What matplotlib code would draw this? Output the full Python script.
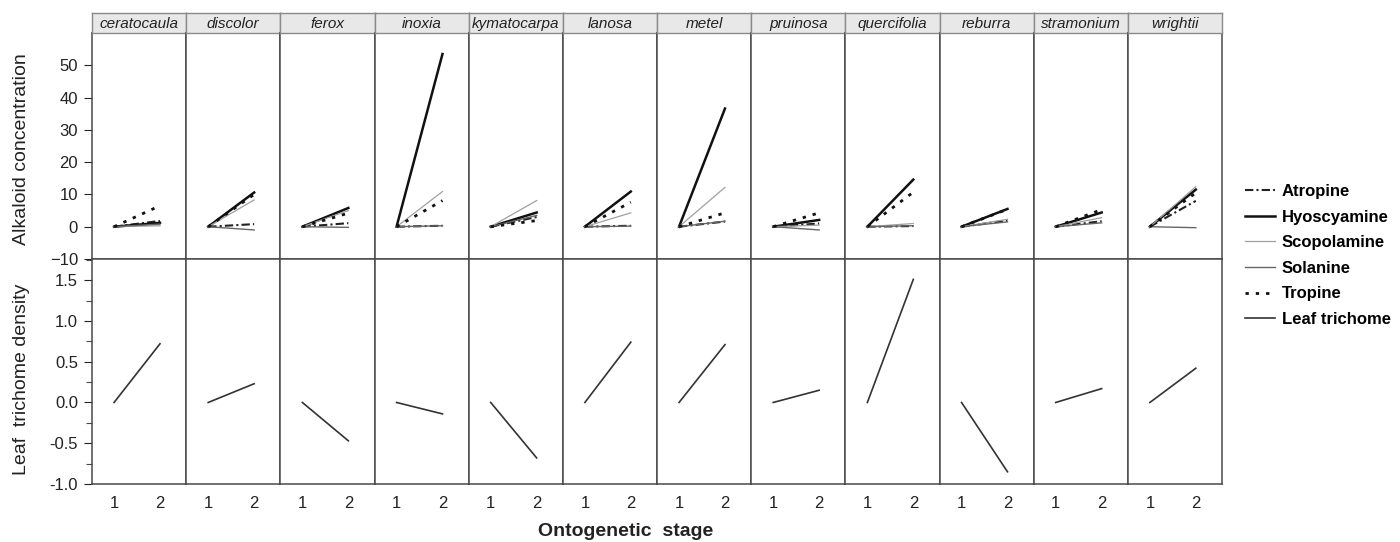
import numpy as np
import matplotlib
matplotlib.use('Agg')
import matplotlib.pyplot as plt
from matplotlib.lines import Line2D
from matplotlib.ticker import MultipleLocator, FormatStrFormatter

plt.rcParams['font.family'] = ['Liberation Sans', 'DejaVu Sans']

species = ['ceratocaula', 'discolor', 'ferox', 'inoxia', 'kymatocarpa', 'lanosa',
           'metel', 'pruinosa', 'quercifolia', 'reburra', 'stramonium', 'wrightii']
stages = [1, 2]

# alkaloid concentration at stage 2 (stage 1 is 0 for all)
atropine    = [1.8, 0.8, 1.1, 0.3, 3.0, 0.3, 1.6, 1.0, 0.2, 1.9, 1.7, 8.0]
hyoscyamine = [1.2, 10.6, 5.8, 53.5, 4.4, 10.9, 36.6, 2.1, 14.6, 5.5, 4.4, 11.5]
scopolamine = [0.3, 8.3, 5.0, 10.9, 8.1, 4.3, 12.2, 0.5, 1.0, 2.3, 2.8, 12.4]
solanine    = [0.8, -1.0, -0.2, 0.3, 3.5, 0.2, 1.7, -1.0, 0.3, 1.5, 1.2, -0.3]
tropine     = [6.5, 10.0, 4.2, 8.1, 1.9, 7.6, 4.3, 4.3, 10.7, 5.4, 5.3, 10.5]
# leaf trichome density at stage 2 (stage 1 is 0)
trichome    = [0.72, 0.23, -0.47, -0.14, -0.68, 0.74, 0.71, 0.15, 1.51, -0.85, 0.17, 0.42]

series = [
    ('Atropine', atropine, dict(color='#222222', lw=1.5, ls=(0, (4, 1.5, 1, 1.5)))),
    ('Hyoscyamine', hyoscyamine, dict(color='#111111', lw=1.8, ls='-')),
    ('Scopolamine', scopolamine, dict(color='#a0a0a0', lw=0.9, ls='-')),
    ('Solanine', solanine, dict(color='#666666', lw=1.0, ls='-')),
    ('Tropine', tropine, dict(color='#111111', lw=2.0, ls=(0, (1.2, 2.5)))),
]
trichome_style = dict(color='#333333', lw=1.2, ls='-')

W, H = 1400, 542
fig = plt.figure(figsize=(W / 100, H / 100), dpi=100)

x0, x1 = 92, 1222
y_strip, y_top, y_mid, y_bot = 13, 33, 259, 484
pw = (x1 - x0) / len(species)
frame_col = '#4a4a4a'
txt_col = '#222222'

for i, sp in enumerate(species):
    left = (x0 + i * pw) / W
    w = pw / W
    ax_t = fig.add_axes([left, 1 - y_mid / H, w, (y_mid - y_top) / H])
    ax_b = fig.add_axes([left, 1 - y_bot / H, w, (y_bot - y_mid) / H])
    ax_s = fig.add_axes([left, 1 - y_top / H, w, (y_top - y_strip) / H])

    for name, vals, st in series:
        ax_t.plot(stages, [0, vals[i]], **st)
    ax_b.plot(stages, [0, trichome[i]], **trichome_style)

    ax_t.set_ylim(-10, 60)
    ax_b.set_ylim(-1.0, 1.76)
    for ax in (ax_t, ax_b):
        ax.set_xlim(0.52, 2.57)
        for s in ax.spines.values():
            s.set_color(frame_col)
            s.set_linewidth(1.1)
        ax.tick_params(axis='x', length=0, pad=9, labelsize=12, colors=txt_col)
        ax.tick_params(axis='y', direction='out', length=6, width=0.8, pad=4,
                       labelsize=12, colors=txt_col)
        ax.set_xticks(stages)
    ax_t.set_xticklabels([])
    ax_t.set_yticks([-10, 0, 10, 20, 30, 40, 50])
    ax_b.set_yticks([-1.0, -0.5, 0.0, 0.5, 1.0, 1.5])
    ax_b.yaxis.set_minor_locator(MultipleLocator(0.25))
    ax_b.tick_params(axis='y', which='minor', length=4, width=0.8, color=frame_col)
    ax_b.yaxis.set_major_formatter(FormatStrFormatter('%.1f'))
    if i > 0:
        ax_t.set_yticklabels([])
        ax_b.set_yticklabels([])
        ax_t.tick_params(axis='y', length=0)
        ax_b.tick_params(axis='y', which='both', length=0)

    ax_s.set_facecolor('#e8e8e8')
    ax_s.set_xticks([])
    ax_s.set_yticks([])
    for s in ax_s.spines.values():
        s.set_color('#8a8a8a')
        s.set_linewidth(1.0)
    ax_s.text(0.5, 0.45, sp, ha='center', va='center', style='italic',
              fontsize=11, color=txt_col, transform=ax_s.transAxes)

fig.text(22 / W, 1 - 149 / H, 'Alkaloid concentration', rotation=90,
         ha='center', va='center', fontsize=14, color=txt_col)
fig.text(22 / W, 1 - 379 / H, 'Leaf  trichome density', rotation=90,
         ha='center', va='center', fontsize=14, color=txt_col)
fig.text(626 / W, 1 - 531 / H, 'Ontogenetic  stage', ha='center',
         va='center', fontsize=14, fontweight='bold', color=txt_col)

handles = [Line2D([], [], **st) for _, _, st in series]
handles.append(Line2D([], [], **trichome_style))
labels = [s[0] for s in series] + ['Leaf trichome']
leg = fig.legend(handles, labels, loc='upper left',
                 bbox_to_anchor=(1237 / W, 1 - 176 / H), frameon=False,
                 borderpad=0, handlelength=1.8, handletextpad=0.4,
                 labelspacing=0.63, prop={'weight': 'bold', 'size': 12})

fig.savefig('out.png', dpi=100)
